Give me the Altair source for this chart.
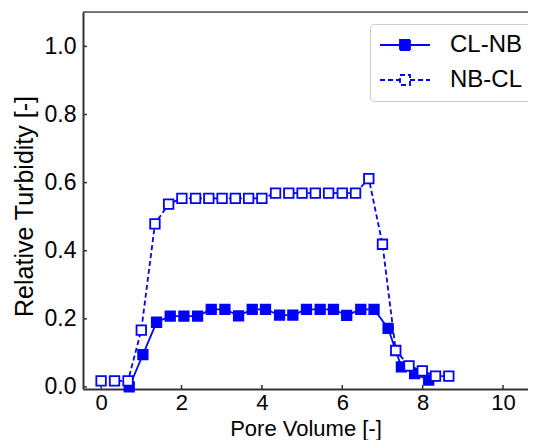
import altair as alt
import pandas as pd

series_names = ["CL-NB", "NB-CL"]

cl_x = [0.70, 1.04, 1.38, 1.72, 2.06, 2.40, 2.74, 3.08, 3.42, 3.76, 4.09, 4.44,
        4.77, 5.11, 5.45, 5.78, 6.11, 6.46, 6.79, 7.14, 7.47, 7.80, 8.15]
cl_y = [0.0, 0.095, 0.19, 0.208, 0.208, 0.208, 0.228, 0.228, 0.209, 0.228, 0.228, 0.211,
        0.211, 0.228, 0.228, 0.228, 0.210, 0.228, 0.228, 0.172, 0.059, 0.039, 0.020]

nb_x = [0.0, 0.335, 0.67, 1.0, 1.34, 1.68, 2.01, 2.35, 2.68, 3.01, 3.34, 3.67, 4.0,
        4.34, 4.67, 5.0, 5.33, 5.66, 6.0, 6.33, 6.66, 7.0, 7.33, 7.66, 7.99, 8.32, 8.65]
nb_y = [0.018, 0.018, 0.018, 0.167, 0.479, 0.537, 0.554, 0.554, 0.554, 0.554, 0.554, 0.554, 0.554,
        0.569, 0.569, 0.569, 0.569, 0.569, 0.569, 0.569, 0.612, 0.419, 0.107, 0.062, 0.047, 0.032, 0.032]

x_ticks = [0, 2, 4, 6, 8, 10]
y_ticks = [0.0, 0.2, 0.4, 0.6, 0.8, 1.0]

df = pd.concat([
    pd.DataFrame({"x": cl_x, "y": cl_y, "series": series_names[0]}),
    pd.DataFrame({"x": nb_x, "y": nb_y, "series": series_names[1]}),
], ignore_index=True)

FONT = "Liberation Sans"
BLUE = "#0000ff"
AXIS_COL = "#333333"
W, H = 445, 377

xscale = alt.Scale(domain=[-0.45, 10.62], nice=False, zero=False)
yscale = alt.Scale(domain=[-0.006, 1.101], nice=False, zero=False)

legend_path = "M-1.1,0H0.9M1.9,0H3.9M0.9,-0.5H1.9V0.5H0.9Z"
legend_props = dict(
    title=None, orient="none", legendX=287, legendY=12,
    symbolType=legend_path, symbolSize=400, symbolStrokeWidth=1.8,
    symbolStrokeColor=BLUE, labelFontSize=24, labelFont=FONT, labelColor="black",
    labelOffset=47, strokeColor="#cccccc", cornerRadius=4, padding=9,
    fillColor="white", rowPadding=11,
)

x_axis = alt.Axis(
    values=x_ticks, title="Pore Volume [-]", ticks=False, grid=False,
    labelFontSize=22, labelPadding=3, labelColor="black", labelFont=FONT,
    domainColor=AXIS_COL, domainWidth=2,
    titleFontSize=22, titleFont=FONT, titleFontWeight="normal", titleColor="black",
    titleBaseline="alphabetic", titleY=46,
)
y_axis = alt.Axis(
    values=y_ticks, format=".1f", title="Relative Turbidity [-]", ticks=False, grid=False,
    labelFontSize=23, labelPadding=7, labelColor="black", labelFont=FONT,
    domainColor=AXIS_COL, domainWidth=2,
    titleFontSize=25, titleFont=FONT, titleFontWeight="normal", titleColor="black",
    titleAngle=270, titleBaseline="alphabetic", titleAlign="center", titleX=-51, titleY=194,
)
x_enc = alt.X("x:Q", scale=xscale, axis=x_axis)
y_enc = alt.Y("y:Q", scale=yscale, axis=y_axis)

lines = alt.Chart(df).mark_line(color=BLUE, strokeWidth=1.8).encode(
    x=x_enc, y=y_enc,
    strokeDash=alt.StrokeDash("series:N",
                              scale=alt.Scale(domain=series_names, range=[[1, 0], [5, 3]]),
                              legend=alt.Legend(**legend_props)),
)

points = alt.Chart(df).mark_point(shape="square", size=90, filled=True, stroke=BLUE,
                                  strokeWidth=1.8, opacity=1).encode(
    x=x_enc, y=y_enc,
    fill=alt.Fill("series:N", scale=alt.Scale(domain=series_names, range=[BLUE, "white"]),
                  legend=alt.Legend(**legend_props)),
)

xt = alt.Chart(pd.DataFrame({"x": x_ticks})).mark_rule(color=AXIS_COL, strokeWidth=1.5).encode(
    x=x_enc, y=alt.value(H), y2=alt.value(H - 4))
yt = alt.Chart(pd.DataFrame({"y": y_ticks})).mark_rule(color=AXIS_COL, strokeWidth=1.5).encode(
    y=y_enc, x=alt.value(0), x2=alt.value(4))
top_line = alt.Chart(pd.DataFrame({"y": [0]})).mark_rule(color="black", strokeWidth=1).encode(
    y=alt.value(0), x=alt.value(0), x2=alt.value(W))

chart = alt.layer(lines, points, xt, yt, top_line).properties(
    width=W, height=H,
    autosize=alt.AutoSizeParams(type="none"),
    padding={"left": 75, "top": 4, "right": 0, "bottom": 51},
).configure_view(stroke=None).configure(font=FONT)

chart.save("out.html", embed_options={"renderer": "svg", "actions": False})
